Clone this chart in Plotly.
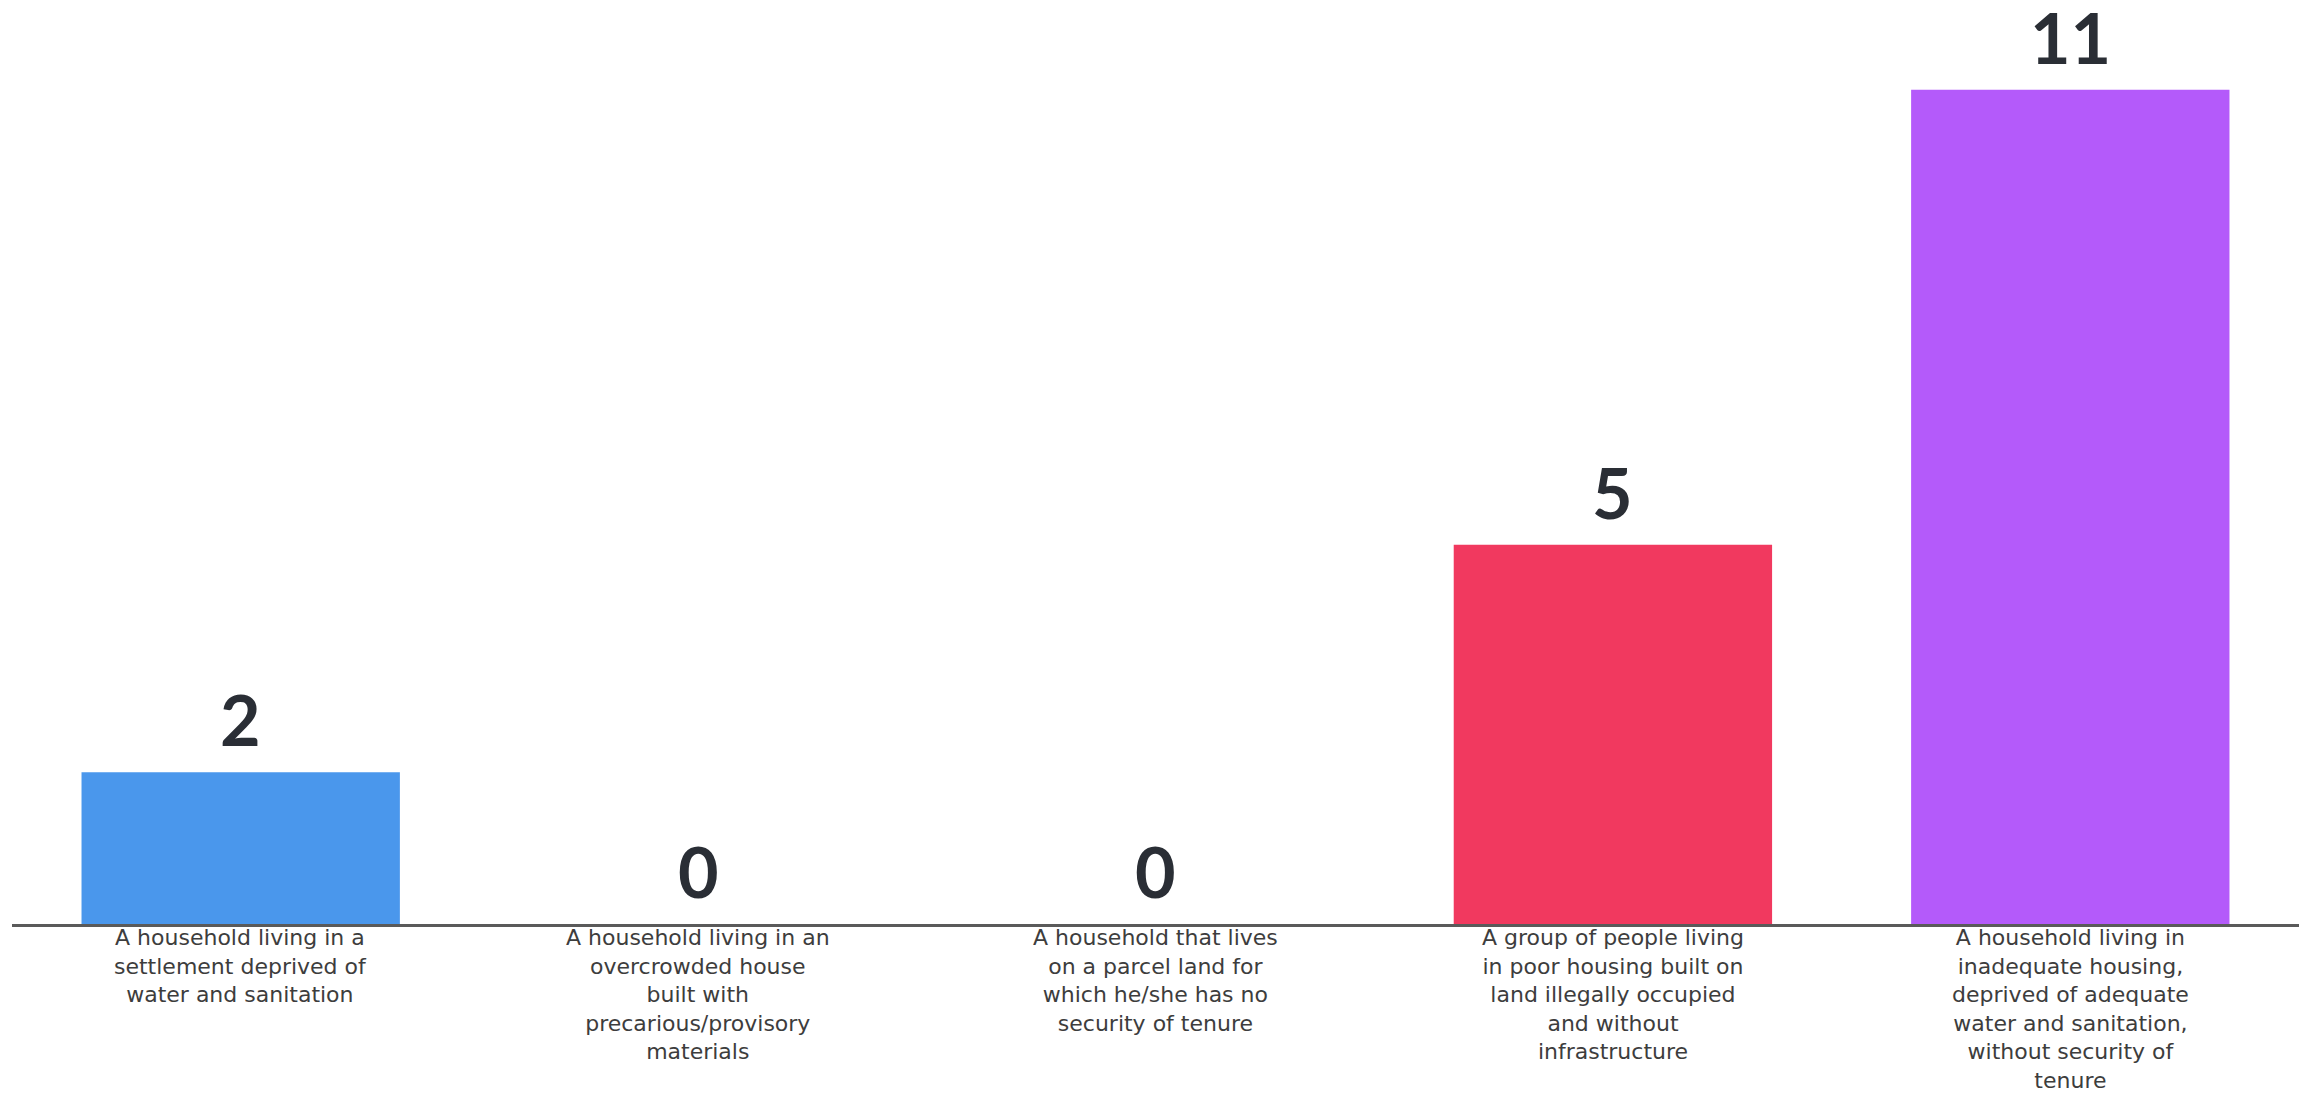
import plotly.graph_objects as go

categories = [
    "A household living in a<br>settlement deprived of<br>water and sanitation",
    "A household living in an<br>overcrowded house<br>built with<br>precarious/provisory<br>materials",
    "A household that lives<br>on a parcel land for<br>which he/she has no<br>security of tenure",
    "A group of people living<br>in poor housing built on<br>land illegally occupied<br>and without<br>infrastructure",
    "A household living in<br>inadequate housing,<br>deprived of adequate<br>water and sanitation,<br>without security of<br>tenure",
]
values = [2, 0, 0, 5, 11]
colors = ["#4A97EC", "#4A97EC", "#4A97EC", "#F1395F", "#B45AFA"]

fig = go.Figure(go.Bar(
    x=categories,
    y=values,
    marker=dict(color=colors, line=dict(width=0)),
    cliponaxis=False,
))

for c, v in zip(categories, values):
    fig.add_annotation(
        x=c, y=v, xref="x", yref="y",
        text=str(v), showarrow=False,
        yanchor="bottom", yshift=9,
        font=dict(family="Lato", size=70, color="#2A2E35", weight="bold"),
    )
    fig.add_annotation(
        x=c, y=0, xref="x", yref="y",
        text=c, showarrow=False,
        yanchor="top", yshift=1, align="center",
        font=dict(family="DejaVu Sans", size=22, color="#3d3d3d"),
    )

fig.update_layout(
    width=2309, height=1095,
    margin=dict(l=4, r=18, t=6, b=179),
    paper_bgcolor="white", plot_bgcolor="white",
    bargap=0.304,
    showlegend=False,
    xaxis=dict(
        showline=True, linecolor="#5a5a5a", linewidth=3,
        showgrid=False, ticks="", zeroline=False,
        showticklabels=False, automargin=False,
    ),
    yaxis=dict(
        range=[0, 12], showgrid=False, zeroline=False,
        showticklabels=False, showline=False, automargin=False,
    ),
)

fig.write_html("out.html")
